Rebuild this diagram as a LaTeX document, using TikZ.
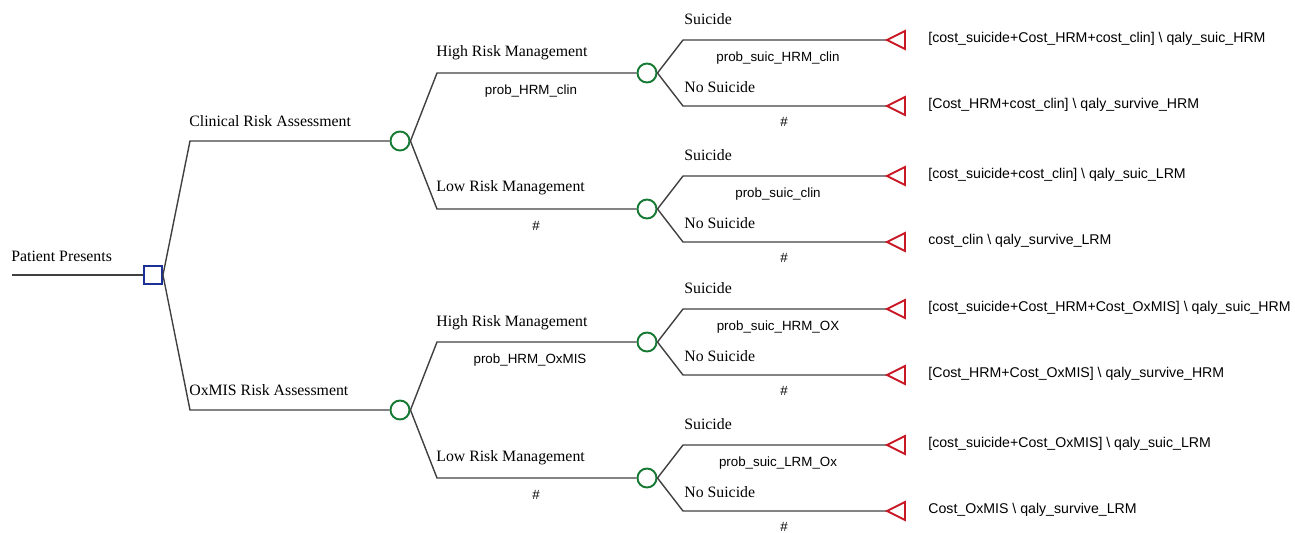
\documentclass[tikz,border=0pt]{standalone}
\usepackage{fontspec}
\setmainfont{Liberation Serif}
\newfontfamily\valfont{Liberation Sans}
\usetikzlibrary{positioning}
\definecolor{decblue}{RGB}{28,48,150}
\definecolor{chgreen}{RGB}{22,122,52}
\definecolor{termred}{RGB}{200,24,36}
\definecolor{treegray}{RGB}{64,64,64}
\tikzset{
  branch/.style={draw=treegray,line width=0.8pt},
  decnode/.style={draw=decblue,line width=1.1pt,fill=white,minimum size=0.36cm,inner sep=0pt},
  chnode/.style={circle,draw=chgreen,line width=1.1pt,fill=white,minimum size=0.38cm,inner sep=0pt},
  termnode/.style={draw=termred,line width=1.1pt,line join=miter},
  lbl/.style={font=\fontsize{9}{11}\selectfont,anchor=west,inner sep=0pt},
  probtxt/.style={font=\valfont\fontsize{7.6}{9}\selectfont,inner sep=0pt},
  payoff/.style={font=\valfont\fontsize{8.05}{10}\selectfont,anchor=west,inner sep=0pt}
}
\begin{document}
\begin{tikzpicture}[x=0.02cm,y=-0.02cm]
\useasboundingbox (0,0) rectangle (1295,532);
% decision
\coordinate (start) at (12,275);
\node[decnode] (root) at (153,275) {};
\node[lbl] (rootlbl) at (11,256) {Patient Presents};
\draw[branch] (start) -- (root);
%
\coordinate (clin) at (190,141);
\coordinate (ox) at (190,410);
\node[chnode] (clinA) at (400,141) {};
\node[chnode] (oxA) at (400,410) {};
\node[lbl] (clinlbl) at (189,121) {Clinical Risk Assessment};
\node[lbl] (oxlbl) at (189,390) {OxMIS Risk Assessment};
\draw[branch] (root.east) -- (clin) -- (clinA);
\draw[branch] (root.east) -- (ox) -- (oxA);
%
% management
\coordinate (clinH) at (437,73);
\coordinate (clinL) at (437,209);
\coordinate (oxH) at (437,342);
\coordinate (oxL) at (437,478);
\node[chnode] (clinHn) at (647,73) {};
\node[chnode] (clinLn) at (647,209) {};
\node[chnode] (oxHn) at (647,342) {};
\node[chnode] (oxLn) at (647,478) {};
\draw[branch] (clinA.east) -- (clinH) -- (clinHn);
\draw[branch] (clinA.east) -- (clinL) -- (clinLn);
\draw[branch] (oxA.east) -- (oxH) -- (oxHn);
\draw[branch] (oxA.east) -- (oxL) -- (oxLn);
%
\node[lbl] (clinHlbl) at (436,53) {High Risk Management};
\node[lbl] (clinLlbl) at (436,188) {Low Risk Management};
\node[lbl] (oxHlbl) at (436,323) {High Risk Management};
\node[lbl] (oxLlbl) at (436,458) {Low Risk Management};
\node[probtxt] (clinHp) at (531,91) {prob\_HRM\_clin};
\node[probtxt] (clinLp) at (536,226) {\#};
\node[probtxt] (oxHp) at (530,360) {prob\_HRM\_OxMIS};
\node[probtxt] (oxLp) at (536,495) {\#};
%
% outcomes
\foreach \n/\y/\pr/\pa/\pb in {
  clinHn/73/prob\_suic\_HRM\_clin/{[cost\_suicide+Cost\_HRM+cost\_clin] \textbackslash{} qaly\_suic\_HRM}/{[Cost\_HRM+cost\_clin] \textbackslash{} qaly\_survive\_HRM},
  clinLn/209/prob\_suic\_clin/{[cost\_suicide+cost\_clin] \textbackslash{} qaly\_suic\_LRM}/{cost\_clin \textbackslash{} qaly\_survive\_LRM},
  oxHn/342/prob\_suic\_HRM\_OX/{[cost\_suicide+Cost\_HRM+Cost\_OxMIS] \textbackslash{} qaly\_suic\_HRM}/{[Cost\_HRM+Cost\_OxMIS] \textbackslash{} qaly\_survive\_HRM},
  oxLn/478/prob\_suic\_LRM\_Ox/{[cost\_suicide+Cost\_OxMIS] \textbackslash{} qaly\_suic\_LRM}/{Cost\_OxMIS \textbackslash{} qaly\_survive\_LRM}}{
  \coordinate (\n-s) at (683,\y-33);
  \coordinate (\n-d) at (683,\y+33);
  \coordinate (\n-st) at (887,\y-33);
  \coordinate (\n-dt) at (887,\y+33);
  \draw[branch] (\n.east) -- (\n-s) -- (\n-st);
  \draw[branch] (\n.east) -- (\n-d) -- (\n-dt);
  \draw[termnode] (\n-st) -- ++(18,-9) -- ++(0,18) -- cycle;
  \draw[termnode] (\n-dt) -- ++(18,-9) -- ++(0,18) -- cycle;
  \node[lbl] (\n-sl) at (684,\y-54) {Suicide};
  \node[lbl] (\n-dl) at (684,\y+14) {No Suicide};
  \node[probtxt] (\n-sp) at (778,\y-15) {\pr};
  \node[probtxt] (\n-dp) at (784,\y+49) {\#};
  \node[payoff] (\n-sv) at (928,\y-34) {\pa};
  \node[payoff] (\n-dv) at (928,\y+32) {\pb};
}
\end{tikzpicture}
\end{document}
